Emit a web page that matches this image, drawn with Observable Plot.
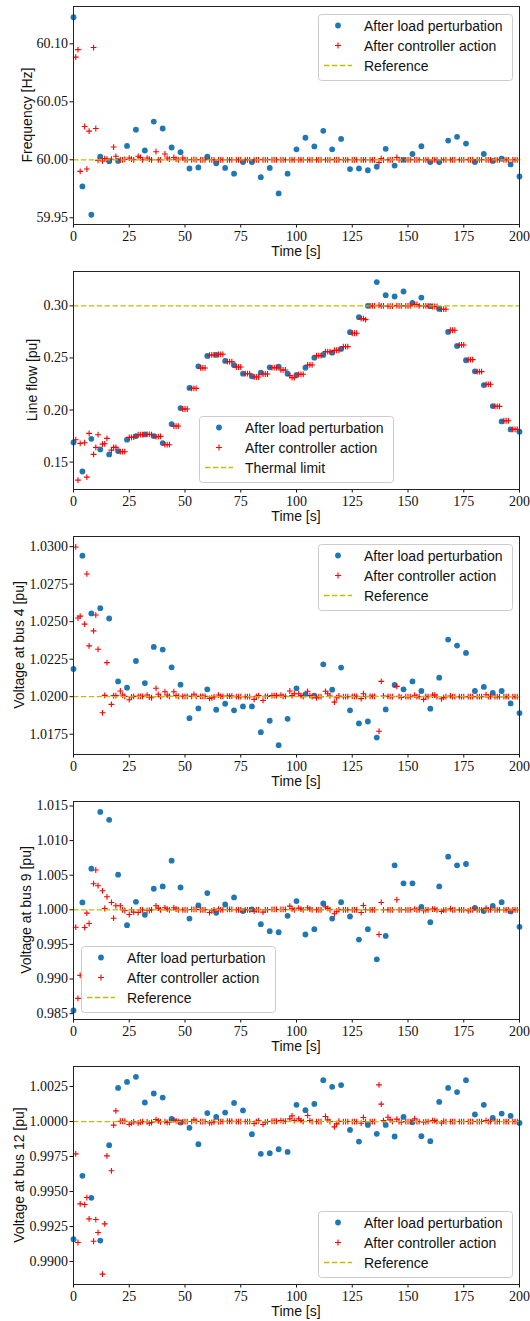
<!DOCTYPE html>
<html>
<head>
<meta charset="utf-8">
<script src="https://cdn.jsdelivr.net/npm/d3@7"></script>
<script src="https://cdn.jsdelivr.net/npm/@observablehq/plot@0.6"></script>
<style>
  html, body { margin: 0; padding: 0; background: #fff; }
  #charts svg { display: block; }
</style>
</head>
<body>
<div id="charts"></div>
<script>
// ---------- data ----------
const xTickValues = [0, 25, 50, 75, 100, 125, 150, 175, 200];

// sample times of the "after load perturbation" points
const blueTimes = [0,4,8,12,16,20,24,28,32,36,40,44,48,52,56,60,64,68,72,76,80,84,88,92,96,100,
  104,108,112,116,120,124,128,132,136,140,144,148,152,156,160,164,168,172,176,180,184,188,192,196,200];
// sample times of the "after controller action" points
const redTimes = [1,2,3,5,6,7,9,10,11,13,14,15,17,18,19,21,22,23,25,26,27,29,30,31,33,34,35,37,38,39,
  41,42,43,45,46,47,49,50,51,53,54,55,57,58,59,61,62,63,65,66,67,69,70,71,73,74,75,77,78,79,
  81,82,83,85,86,87,89,90,91,93,94,95,97,98,99,101,102,103,105,106,107,109,110,111,113,114,115,117,118,119,
  121,122,123,125,126,127,129,130,131,133,134,135,137,138,139,141,142,143,145,146,147,149,150,151,153,154,155,157,158,159,
  161,162,163,165,166,167,169,170,171,173,174,175,177,178,179,181,182,183,185,186,187,189,190,191,193,194,195,197,198,199];

// Panel 1: frequency
const freqBlue = [60.123,59.977,59.9526,60.0028,59.9988,59.999,60.012,60.026,60.008,60.033,60.027,60.0106,60.0066,
  59.9925,59.9934,60.0028,59.997,59.993,59.988,59.998,59.998,59.985,59.993,59.971,59.988,60.009,
  60.019,60.0115,60.025,60.009,60.018,59.992,59.9925,59.991,59.994,60.0095,59.995,60.000,60.005,60.0117,
  59.998,59.998,60.0166,60.0198,60.014,59.998,60.005,59.999,60.001,59.996,59.9856];
const freqRed = [60.0885,60.095,59.990, 60.0287,59.992,60.0247, 60.0968,60.027,59.9995, 59.999,60.001,60.0005,
  60.0005,60.011,60.003, 60.000,60.000,60.0003, 60.0015,60.0005,60.000, 60.003,60.002,60.000,
  60.0015,60.0005,60.000, 60.007,60.000,60.000, 60.005,60.0015,60.0005, 60.002,60.0005,60.000,
  60.0015,60.000,60.000, 60.000,60.0003,60.000, 60.000,60.000,60.000, 60.0002,60.000,60.000,
  60.000,60.000,60.000, 60.000,60.000,60.000, 60.000,60.000,60.000, 60.000,60.000,60.000,
  60.000,60.000,60.000, 60.000,60.000,60.000, 60.000,60.000,60.000, 60.000,60.000,60.000,
  60.000,60.000,60.000, 60.000,60.000,60.000, 60.000,60.000,60.000, 60.000,60.000,60.000,
  60.000,60.000,60.000, 60.000,60.000,60.000, 60.000,60.000,60.000, 60.000,60.000,60.000,
  60.000,60.000,60.000, 60.000,60.000,60.000, 59.9977,60.001,60.000, 60.000,60.000,60.000,
  60.002,60.000,60.000, 60.000,60.000,60.000, 60.000,60.000,60.000, 60.000,60.000,60.000,
  60.000,60.000,60.000, 60.000,60.000,60.000, 60.000,60.000,60.000, 60.000,60.000,60.000,
  60.000,60.000,60.000, 60.000,60.000,60.000, 60.000,60.000,60.000, 60.000,60.000,60.000,
  60.000,60.000,60.000, 60.000,60.000,60.000];
const freqRef = 60.0;
const freqTicks = [59.95, 60.00, 60.05, 60.10];

// Panel 2: line flow
const flowBlue = [0.1689,0.141,0.1724,0.1622,0.1574,0.1606,0.1715,0.175,0.1766,0.175,0.1683,0.1865,0.2019,
  0.2212,0.242,0.2519,0.2529,0.2471,0.243,0.2349,0.2324,0.2359,0.241,0.2417,0.2349,0.2337,
  0.2407,0.2503,0.2529,0.2551,0.2587,0.2747,0.2891,0.300,0.3228,0.3103,0.309,0.3138,0.3029,0.308,
  0.2997,0.2971,0.275,0.2615,0.2478,0.2372,0.224,0.2038,0.1891,0.1814,0.1792];
const flowRed = [0.1715,0.1327,0.168, 0.1686,0.1356,0.1776, 0.1574,0.1641,0.1763, 0.1673,0.1676,0.1728,
  0.1615,0.1641,0.1641, 0.160,0.160,0.160, 0.1737,0.1737,0.174, 0.1763,0.1763,0.1763,
  0.1766,0.1766,0.1763, 0.1744,0.1744,0.1747, 0.1667,0.1667,0.1667, 0.1846,0.1846,0.1846,
  0.201,0.201,0.201, 0.2208,0.2208,0.2208, 0.2404,0.2404,0.2404, 0.2526,0.2529,0.2529,
  0.2535,0.2535,0.2535, 0.2465,0.2465,0.2465, 0.2413,0.2413,0.2413, 0.2349,0.2349,0.2349,
  0.2317,0.2317,0.2317, 0.2346,0.2346,0.2346, 0.2407,0.2407,0.2407, 0.2385,0.2385,0.2385,
  0.233,0.2311,0.2311, 0.2343,0.2343,0.2343, 0.2433,0.2433,0.2433, 0.2522,0.2522,0.2522,
  0.2561,0.2561,0.2561, 0.2574,0.2574,0.2574, 0.2609,0.2609,0.2609, 0.2737,0.2737,0.2737,
  0.2878,0.2878,0.2868, 0.300,0.300,0.300, 0.3006,0.300,0.300, 0.2997,0.2997,0.2997,
  0.3003,0.300,0.300, 0.300,0.300,0.300, 0.3013,0.3013,0.300, 0.300,0.300,0.300,
  0.2994,0.2994,0.2994, 0.2968,0.2968,0.2968, 0.2766,0.2766,0.2766, 0.2625,0.2625,0.2625,
  0.2484,0.2484,0.2484, 0.2369,0.2369,0.2369, 0.2247,0.2247,0.2247, 0.2035,0.2035,0.2035,
  0.1897,0.1897,0.1897, 0.1814,0.1814,0.1814];
const flowRef = 0.30;
const flowTicks = [0.15, 0.20, 0.25, 0.30];

// Panel 3: voltage at bus 4
const bus4Blue = [1.02185,1.0294,1.02555,1.0259,1.02521,1.02102,1.0206,1.02238,1.02091,1.02332,1.02314,1.02196,1.0208,
  1.01857,1.01922,1.02049,1.01913,1.01953,1.01909,1.01935,1.01935,1.01764,1.0184,1.01677,1.01853,1.02056,
  1.02016,1.02007,1.02216,1.02047,1.02194,1.01909,1.01822,1.01835,1.01728,1.01915,1.02078,1.02049,1.02102,1.02038,
  1.0192,1.02127,1.02381,1.02341,1.02292,1.02038,1.02065,1.02025,1.02038,1.01955,1.01891];
const bus4Red = [1.02998,1.02524,1.02537, 1.02484,1.02818,1.02339, 1.02439,1.02544,1.02316, 1.01893,1.02009,1.02227,
  1.01949,1.02007,1.02007, 1.02038,1.02011,1.02002, 1.0198,1.01998,1.02002, 1.02002,1.02002,1.02002,
  1.02011,1.01998,1.01993, 1.02056,1.02016,1.02, 1.02033,1.02011,1.02002, 1.02033,1.02007,1.02002,
  1.02002,1.02002,1.02002, 1.02002,1.02016,1.02002, 1.02002,1.02002,1.02002, 1.01989,1.01993,1.01998,
  1.02011,1.02002,1.02002, 1.02004,1.02004,1.02004, 1.02,1.02,1.02, 1.02,1.02,1.02,
  1.01982,1.02002,1.02007, 1.01975,1.02002,1.02002, 1.02007,1.02007,1.02007, 1.02011,1.02002,1.02002,
  1.02038,1.02007,1.0202, 1.0202,1.02007,1.02, 1.02036,1.02007,1.02, 1.01993,1.02,1.02,
  1.02036,1.0202,1.02005, 1.01964,1.01993,1.02005, 1.02,1.02,1.02, 1.02002,1.02002,1.02002,
  1.01987,1.0202,1.02, 1.02002,1.02002,1.02002, 1.0177,1.02102,1.02005, 1.02002,1.02,1.02,
  1.02069,1.02002,1.01995, 1.02,1.02,1.02, 1.0201,1.02,1.02, 1.01982,1.02002,1.02,
  1.02011,1.02011,1.02, 1.01986,1.01995,1.02, 1.02005,1.02,1.02, 1.02,1.02,1.02,
  1.02,1.02,1.02, 1.02,1.02,1.02, 1.02013,1.02,1.02, 1.02,1.02,1.02,
  1.02,1.02,1.02, 1.02,1.02,1.02];
const bus4Ref = 1.02;
const bus4Ticks = [1.0175, 1.0200, 1.0225, 1.0250, 1.0275, 1.0300];

// Panel 4: voltage at bus 9
const bus9Blue = [0.98546,1.00106,1.00594,1.01415,1.013,1.00507,0.99778,1.00116,0.99928,1.00304,1.00338,1.0071,1.00324,
  0.99874,1.00063,1.00242,0.99957,1.00077,1.00179,0.99981,1.00005,0.99792,0.99691,0.99676,0.99913,1.00126,
  0.99643,0.9972,1.00092,0.99874,1.00111,0.99903,0.9957,0.9972,0.99285,0.99623,1.00643,1.00382,1.00382,1.00043,
  0.99821,1.00338,1.00768,1.00643,1.00662,1.00029,0.99981,1.00058,1.00111,0.99976,0.99754];
const bus9Red = [0.99749,0.9872,0.99053, 0.99744,0.99952,0.99802, 1.00377,1.00575,1.00348, 1.00275,1.00019,1.00188,
  1.00106,0.99879,1.00058, 1.00058,1.0,0.9999, 0.99932,1.0,0.99966, 0.99961,1.0,1.0,
  0.9999,0.9999,1.0, 1.00058,1.00024,1.0, 1.00029,1.0001,1.0, 1.00029,1.0001,1.0,
  1.0,1.0,1.0, 1.00005,1.00005,1.00005, 1.0,1.0,1.0, 0.99961,0.99986,1.0,
  1.0001,1.0,1.0, 1.00005,1.00005,1.00005, 1.0,1.0,1.0, 1.0,1.0,1.0,
  0.99981,1.0,1.0, 0.99966,1.0,1.0, 1.00005,1.00005,1.00005, 1.00005,1.00005,1.00005,
  1.00053,1.00014,1.0, 1.00024,1.0001,1.0, 1.00029,1.0001,1.0, 1.0,1.0,1.0,
  1.00043,1.0002,1.0, 0.99942,0.9998,1.0, 1.0,1.0,1.0, 1.0,1.0,1.0,
  0.99961,1.00063,1.0, 1.0,1.0,1.0, 0.99643,1.00106,1.0, 1.0,1.0,1.0,
  1.00145,1.0,1.0, 1.0,1.0,1.0, 1.0001,1.0,1.0, 0.99986,1.0,1.0,
  1.0001,1.0001,1.0, 0.99976,0.99995,1.0, 1.00015,1.0,1.0, 1.0,1.0,1.0,
  0.99986,1.0,1.0, 1.0,1.0,1.0, 1.00024,1.0,1.0, 1.0,1.0,1.0,
  1.0,1.0,1.0, 1.0,1.0,1.0];
const bus9Ref = 1.0;
const bus9Ticks = [0.985, 0.990, 0.995, 1.000, 1.005, 1.010, 1.015];

// Panel 5: voltage at bus 12
const bus12Blue = [0.9916,0.99612,0.99455,0.9915,0.99831,1.0024,1.00283,1.00319,1.00136,1.002,1.00171,1.00019,0.99993,
  0.99955,0.99838,1.0006,1.00033,1.00064,1.00133,1.00079,0.9991,0.99769,0.99774,0.99802,0.99783,1.00119,
  1.00081,1.00126,1.00295,1.00248,1.0026,0.9994,0.99857,0.99976,0.99912,0.99976,0.99893,1.00033,0.99995,0.99895,
  0.9986,1.0014,1.0024,1.0021,1.00295,1.0005,1.00119,1.00026,1.00057,1.0004,0.9999];
const bus12Red = [0.99769,0.99136,0.99412, 0.99407,0.99457,0.99305, 0.99145,0.993,0.99207, 0.9891,0.99269,0.99755,
  0.99648,0.99974,1.00076, 1.00002,1.00002,1.00002, 0.99979,0.9999,0.99998, 0.9999,0.99995,1.0,
  0.99998,0.99988,0.99993, 1.00014,1.00005,0.99998, 1.0,0.99993,0.99995, 1.00012,1.00005,1.0,
  0.99998,1.0,1.0, 1.0,1.00012,1.00002, 1.0,1.0,1.0, 0.9999,0.99993,0.99998,
  1.0,1.0,1.0, 1.00002,1.00002,1.00002, 1.0,1.0,1.0, 1.0,1.0,1.0,
  0.99986,1.0,1.00005, 0.99979,0.99995,1.0, 1.00002,1.00002,1.00002, 1.00007,1.00002,1.00002,
  1.00019,1.0004,1.00007, 1.00019,1.00007,1.0, 1.00043,1.00007,1.0, 1.0,1.0,1.0,
  1.00036,1.00012,1.0, 0.99962,0.99983,1.00002, 1.0,1.0,1.0, 1.0,1.0,1.0,
  0.99988,1.00029,1.0, 1.0,1.0,1.0, 1.00262,1.00124,1.00007, 1.00031,1.00012,1.0,
  1.00017,1.0,0.99995, 1.0,1.0,1.0, 1.0002,1.0,1.0, 0.99995,1.0,1.0,
  1.00007,1.00007,1.0, 0.9999,1.00002,1.0, 1.0,1.0,1.0, 1.0,1.0,1.0,
  1.0,1.0,1.0, 1.0,1.0,1.0, 1.00007,1.0,1.0, 1.0,1.0,1.0,
  1.0,1.0,1.0, 1.0,1.0,1.0];
const bus12Ref = 1.0;
const bus12Ticks = [0.9900, 0.9925, 0.9950, 0.9975, 1.0000, 1.0025];

const legendLabels = ["After load perturbation", "After controller action"];
const refLabel = "Reference";
const limitLabel = "Thermal limit";

// ---------- drawing ----------
const BLUE = "#1f77b4", RED = "#ff0000", YEL = "#bfbf00";
const SANS = "'Liberation Sans', Arial, Helvetica, sans-serif";
const SERIF = "'Liberation Serif', 'DejaVu Serif', serif";

const plusSymbol = {
  draw(ctx, size) {
    const r = Math.sqrt(size / Math.PI);
    ctx.moveTo(-r, 0); ctx.lineTo(r, 0);
    ctx.moveTo(0, -r); ctx.lineTo(0, r);
  }
};

const panels = [
  {blue: freqBlue, red: freqRed, ref: freqRef, ticks: freqTicks, dec: 2, domain: [59.9442, 60.1322],
   ylabel: "Frequency [Hz]", labelX: 31.7, legend: [318, 14], refName: refLabel, height: 265},
  {blue: flowBlue, red: flowRed, ref: flowRef, ticks: flowTicks, dec: 2, domain: [0.1237, 0.333],
   ylabel: "Line flow [pu]", labelX: 37.3, legend: [199, 151], refName: limitLabel, height: 265},
  {blue: bus4Blue, red: bus4Red, ref: bus4Ref, ticks: bus4Ticks, dec: 4, domain: [1.01615, 1.030675],
   ylabel: "Voltage at bus 4 [pu]", labelX: 24, legend: [318, 14], refName: refLabel, height: 265},
  {blue: bus9Blue, red: bus9Red, ref: bus9Ref, ticks: bus9Ticks, dec: 3, domain: [0.98415, 1.01565],
   ylabel: "Voltage at bus 9 [pu]", labelX: 30.7, legend: [81, 151], refName: refLabel, height: 265},
  {blue: bus12Blue, red: bus12Red, ref: bus12Ref, ticks: bus12Ticks, dec: 4, domain: [0.98836, 1.00393],
   ylabel: "Voltage at bus 12 [pu]", labelX: 24, legend: [318, 151], refName: refLabel, height: 261}
];

const container = document.getElementById("charts");

for (const cfg of panels) {
  const blue = cfg.blue.map((v, i) => ({t: blueTimes[i], v}));
  const red = cfg.red.map((v, i) => ({t: redTimes[i], v}));
  const svg = Plot.plot({
    width: 530,
    height: cfg.height,
    marginTop: 6,
    marginLeft: 73,
    marginRight: 11,
    marginBottom: cfg.height - 224,
    style: {background: "#fff", color: "#111", fontFamily: SERIF, fontSize: "14px", overflow: "visible"},
    x: {domain: [0, 200]},
    y: {domain: cfg.domain},
    marks: [
      Plot.axisX({ticks: xTickValues, tickSize: 3.5, tickPadding: 3, tickFormat: d => String(d),
                  label: null, fontSize: 14, fontFamily: SERIF}),
      Plot.axisY({ticks: cfg.ticks, tickSize: 3.5, tickPadding: 2, tickFormat: d => d.toFixed(cfg.dec),
                  label: null, fontSize: 14, fontFamily: SERIF}),
      Plot.dot(blue, {x: "t", y: "v", r: 2.9, fill: BLUE, stroke: "none"}),
      Plot.dot(red, {x: "t", y: "v", r: 2.9, symbol: plusSymbol, fill: "none", stroke: RED, strokeWidth: 1.1}),
      Plot.ruleY([cfg.ref], {stroke: YEL, strokeWidth: 1.3, strokeDasharray: "5.5,2.4"}),
      Plot.frame({stroke: "#222", strokeWidth: 1})
    ]
  });

  const s = d3.select(svg);
  // y label
  s.append("text")
    .attr("transform", `translate(${cfg.labelX},115) rotate(-90)`)
    .attr("text-anchor", "middle")
    .attr("font-family", SANS).attr("font-size", 14).attr("fill", "#111")
    .text(cfg.ylabel);
  // x label
  s.append("text")
    .attr("x", 296).attr("y", 255.5)
    .attr("text-anchor", "middle")
    .attr("font-family", SANS).attr("font-size", 14).attr("fill", "#111")
    .text("Time [s]");

  // legend
  const [lx, ly] = cfg.legend;
  const g = s.append("g").attr("transform", `translate(${lx},${ly})`);
  g.append("rect").attr("x", 0.5).attr("y", 0.5).attr("width", 194).attr("height", 66).attr("rx", 3)
    .attr("fill", "#fff").attr("fill-opacity", 0.8).attr("stroke", "#ccc").attr("stroke-width", 1);
  const rows = [11.5, 31.5, 51.5];
  g.append("circle").attr("cx", 20).attr("cy", rows[0]).attr("r", 2.9).attr("fill", BLUE);
  g.append("path").attr("d", `M17,${rows[1]}H23M20,${rows[1] - 3}V${rows[1] + 3}`)
    .attr("stroke", RED).attr("stroke-width", 1.1).attr("fill", "none");
  g.append("line").attr("x1", 6).attr("x2", 34).attr("y1", rows[2]).attr("y2", rows[2])
    .attr("stroke", YEL).attr("stroke-width", 1.3).attr("stroke-dasharray", "5.5,2.4");
  const labels = [legendLabels[0], legendLabels[1], cfg.refName];
  labels.forEach((lab, i) => {
    g.append("text").attr("x", 46).attr("y", rows[i] + 5)
      .attr("text-anchor", "start")
      .attr("font-family", SANS).attr("font-size", 14).attr("fill", "#111")
      .text(lab);
  });

  container.appendChild(svg);
}
</script>
</body>
</html>
